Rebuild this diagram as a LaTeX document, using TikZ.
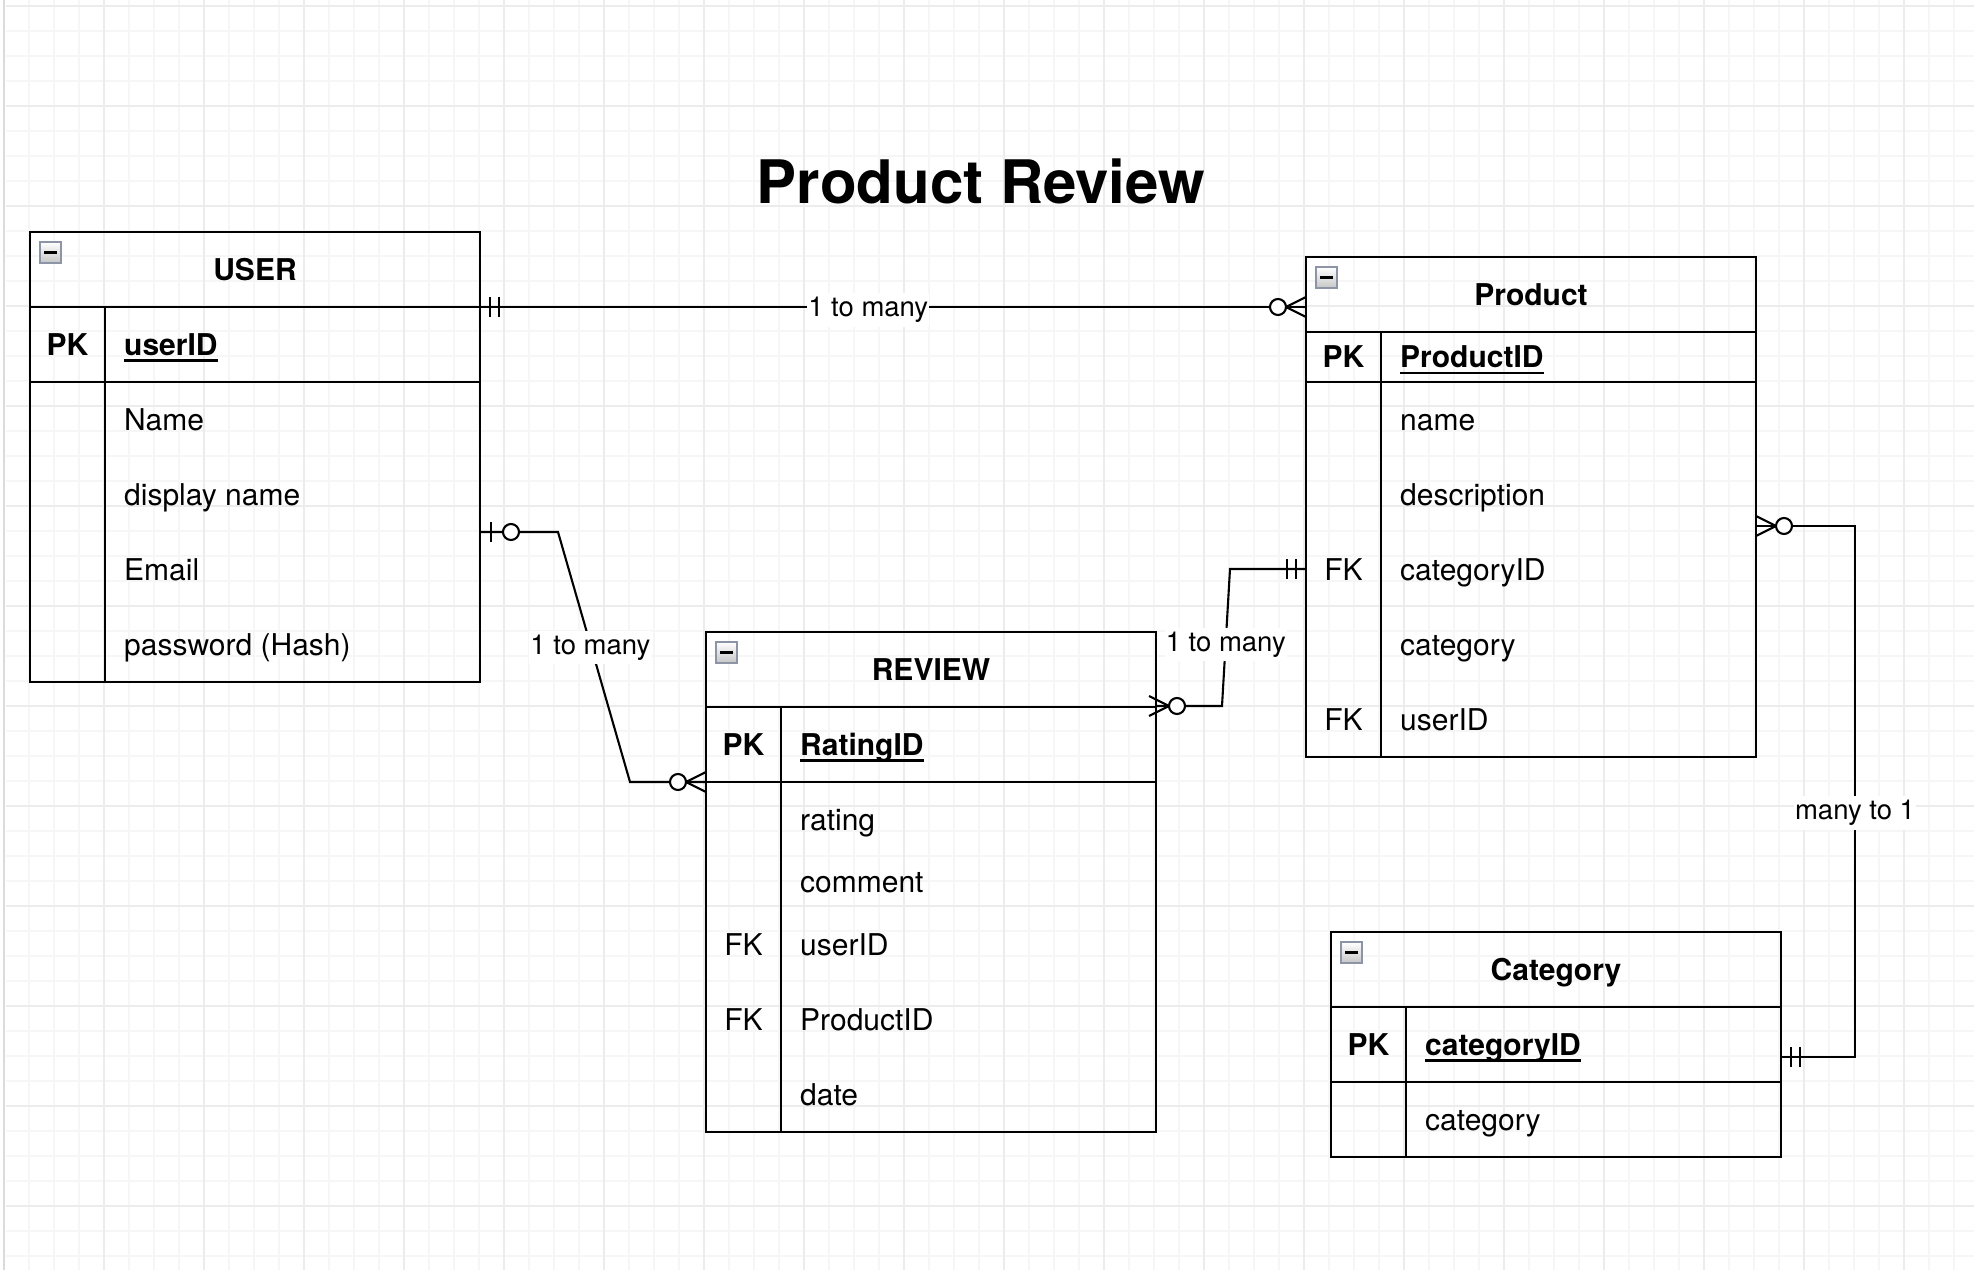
\documentclass[tikz,border=0pt]{standalone}
\usepackage{fontspec}
\setmainfont{TeX Gyre Heros}
\usetikzlibrary{calc}
\newcommand{\myul}[1]{\setbox0\hbox{#1}\rlap{\rule[-6.5pt]{\wd0}{2.6pt}}\box0}
\tikzset{
  gridminor/.style={draw=gray!7, line width=1.2pt},
  gridmajor/.style={draw=gray!15, line width=1.6pt},
  entity/.style={draw=black, line width=2.3pt, minimum width=450pt, inner sep=0pt},
  sep/.style={draw=black, line width=2.3pt},
  conn/.style={draw=black, line width=2.1pt},
  ttl/.style={font=\fontsize{30pt}{36pt}\selectfont\bfseries, anchor=base, inner sep=0pt},
  attr/.style={font=\fontsize{30pt}{36pt}\selectfont, anchor=base west, inner sep=0pt},
  keyb/.style={font=\fontsize{30pt}{36pt}\selectfont\bfseries, anchor=base, inner sep=0pt},
  keyr/.style={font=\fontsize{30pt}{36pt}\selectfont, anchor=base, inner sep=0pt},
  lbl/.style={fill=white, font=\fontsize{27.5pt}{33pt}\selectfont, inner xsep=1pt, inner ysep=4pt, yshift=-3pt},
  ermandone/.pic={\draw[conn] (10,-10) -- (10,10) (19,-10) -- (19,10);},
  erzeroone/.pic={\draw[conn] (11,-10) -- (11,10); \draw[conn, fill=white] (31,0) circle[radius=8pt];},
  erzeromany/.pic={\draw[conn] (0,-10) -- (20,0) -- (0,10); \draw[conn, fill=white] (28,0) circle[radius=8pt];},
  collapse/.pic={
    \shade[top color=white, bottom color=gray!45] (0,0) rectangle (21,21);
    \draw[draw={rgb,255:red,140;green,148;blue,165}, line width=2pt] (0,0) rectangle (21,21);
    \draw[black, line width=3pt] (4,10.5) -- (17,10.5);
  }
}
\begin{document}
\begin{tikzpicture}[x=1pt, y=-1pt]
\useasboundingbox (0,0) rectangle (1974,1270);
\fill[white] (0,0) rectangle (1974,1270);
% grid
\foreach \x in {4,29,...,1974} \draw[gridminor] (\x,0) -- (\x,1270);
\foreach \y in {6,31,...,1270} \draw[gridminor] (6,\y) -- (1974,\y);
\foreach \x in {104,204,...,1974} \draw[gridmajor] (\x,0) -- (\x,1270);
\foreach \y in {6,106,...,1270} \draw[gridmajor] (6,\y) -- (1974,\y);
\draw[draw=gray!28, line width=2.5pt] (4,0) -- (4,1270);

% title
\node[font=\fontsize{60pt}{72pt}\selectfont\bfseries, anchor=base, inner sep=0pt] (title) at (981,203) {Product Review};

% USER
\node[entity, minimum height=450pt] (user) at (255,457) {};
\draw[sep] (30,307) -- (480,307);
\draw[sep] (30,382) -- (480,382);
\draw[sep] (105,307) -- (105,682);
\pic at (40,242) {collapse};
\node[ttl] (userT) at (255,280.3) {USER};
\node[keyb] (userPK) at (67.5,355.3) {PK};
\node[attr, font=\fontsize{30pt}{36pt}\selectfont\bfseries] (userA0) at (124,355.3) {\myul{userID}};
\node[attr] (userA1) at (124,430.3) {Name};
\node[attr] (userA2) at (124,505.3) {display name};
\node[attr] (userA3) at (124,580.3) {Email};
\node[attr] (userA4) at (124,655.3) {password (Hash)};

% Product
\node[entity, minimum height=500pt] (prod) at (1531,507) {};
\draw[sep] (1306,332) -- (1756,332);
\draw[sep] (1306,382) -- (1756,382);
\draw[sep] (1381,332) -- (1381,757);
\pic at (1316,267) {collapse};
\node[ttl] (prodT) at (1531,305.3) {Product};
\node[keyb] (prodPK) at (1343.5,367.8) {PK};
\node[attr, font=\fontsize{30pt}{36pt}\selectfont\bfseries] (prodA0) at (1400,367.8) {\myul{ProductID}};
\node[attr] (prodA1) at (1400,430.3) {name};
\node[attr] (prodA2) at (1400,505.3) {description};
\node[keyr] (prodFK1) at (1343.5,580.3) {FK};
\node[attr] (prodA3) at (1400,580.3) {categoryID};
\node[attr] (prodA4) at (1400,655.3) {category};
\node[keyr] (prodFK2) at (1343.5,730.3) {FK};
\node[attr] (prodA5) at (1400,730.3) {userID};

% REVIEW
\node[entity, minimum height=500pt] (rev) at (931,882) {};
\draw[sep] (706,707) -- (1156,707);
\draw[sep] (706,782) -- (1156,782);
\draw[sep] (781,707) -- (781,1132);
\pic at (716,642) {collapse};
\node[ttl] (revT) at (931,680.3) {REVIEW};
\node[keyb] (revPK) at (743.5,755.3) {PK};
\node[attr, font=\fontsize{30pt}{36pt}\selectfont\bfseries] (revA0) at (800,755.3) {\myul{RatingID}};
\node[attr] (revA1) at (800,830.3) {rating};
\node[attr] (revA2) at (800,892.8) {comment};
\node[keyr] (revFK1) at (743.5,955.3) {FK};
\node[attr] (revA3) at (800,955.3) {userID};
\node[keyr] (revFK2) at (743.5,1030.3) {FK};
\node[attr] (revA4) at (800,1030.3) {ProductID};
\node[attr] (revA5) at (800,1105.3) {date};

% Category
\node[entity, minimum height=225pt] (cat) at (1556,1044.5) {};
\draw[sep] (1331,1007) -- (1781,1007);
\draw[sep] (1331,1082) -- (1781,1082);
\draw[sep] (1406,1007) -- (1406,1157);
\pic at (1341,942) {collapse};
\node[ttl] (catT) at (1556,980.3) {Category};
\node[keyb] (catPK) at (1368.5,1055.3) {PK};
\node[attr, font=\fontsize{30pt}{36pt}\selectfont\bfseries] (catA0) at (1425,1055.3) {\myul{categoryID}};
\node[attr] (catA1) at (1425,1130.3) {category};

% connector end points
\coordinate (uR1) at (480,307);
\coordinate (pL1) at (1306,307);
\coordinate (uR2) at (480,532);
\coordinate (rL) at (706,782);
\coordinate (rR) at (1156,706);
\coordinate (pL2) at (1306,569);
\coordinate (pR) at (1756,526);
\coordinate (cR) at (1781,1057);

% connectors
\draw[conn] (uR1) -- node[lbl, pos=0.47] {1 to many} (pL1);
\draw[conn] (uR2) -- (558,532) -- node[lbl, pos=0.45] {1 to many} (630,782) -- (rL);
\draw[conn] (rR) -- (1222,706) -- node[lbl, pos=0.47] {1 to many} (1230,569) -- (pL2);
\draw[conn] (pR) -- (1855,526) -- node[lbl, pos=0.535] {many to 1} (1855,1057) -- (cR);

% markers
\pic at (uR1) {ermandone};
\pic[rotate=180] at (pL1) {erzeromany};
\pic at (uR2) {erzeroone};
\pic[rotate=180] at (rL) {erzeromany};
\pic at ($(rR)+(-7,0)$) {erzeromany};
\pic[rotate=180] at (pL2) {ermandone};
\pic at (pR) {erzeromany};
\pic at (cR) {ermandone};
\end{tikzpicture}
\end{document}
